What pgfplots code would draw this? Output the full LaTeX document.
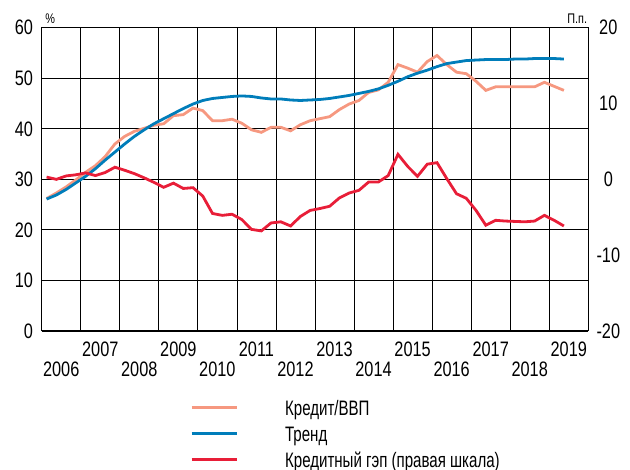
\documentclass[border=0pt]{standalone}
\usepackage{fontspec}
\setmainfont{Liberation Sans}[FakeStretch=0.78]
\newfontfamily\legfont{Liberation Sans}[FakeStretch=0.72]
\usepackage{pgfplots}
\pgfplotsset{compat=1.18}
\usepackage{pgfplotstable}

\definecolor{ccredit}{RGB}{246,152,128}
\definecolor{ctrend}{RGB}{0,125,186}
\definecolor{cgap}{RGB}{232,30,56}

\pgfplotstableread{
t credit trend gap
2006.125 26.2 26.1 0.3
2006.375 27.3 26.9 0.0
2006.625 28.5 28.0 0.45
2006.875 29.9 29.3 0.6
2007.125 31.4 30.6 0.85
2007.375 32.7 32.1 0.5
2007.625 34.5 33.8 0.9
2007.875 37.0 35.4 1.6
2008.125 38.5 37.0 1.2
2008.375 39.5 38.5 0.75
2008.625 40.1 39.8 0.2
2008.875 40.7 41.0 -0.4
2009.125 41.0 42.0 -1.05
2009.375 42.6 43.0 -0.5
2009.625 42.8 44.0 -1.2
2009.875 44.1 44.9 -1.1
2010.125 43.6 45.6 -2.2
2010.375 41.6 46.0 -4.5
2010.625 41.6 46.2 -4.75
2010.875 41.9 46.4 -4.6
2011.125 41.1 46.5 -5.3
2011.375 39.8 46.4 -6.6
2011.625 39.3 46.1 -6.8
2011.875 40.3 45.9 -5.75
2012.125 40.3 45.9 -5.6
2012.375 39.6 45.7 -6.15
2012.625 40.8 45.6 -4.9
2012.875 41.6 45.7 -4.1
2013.125 42.0 45.8 -3.85
2013.375 42.4 46.0 -3.55
2013.625 43.8 46.3 -2.45
2013.875 44.9 46.6 -1.8
2014.125 45.6 47.0 -1.45
2014.375 47.2 47.4 -0.35
2014.625 47.7 47.9 -0.35
2014.875 49.2 48.6 0.5
2015.125 52.7 49.4 3.3
2015.375 52.0 50.3 1.7
2015.625 51.2 51.0 0.4
2015.875 53.3 51.6 2.0
2016.125 54.5 52.3 2.2
2016.375 52.7 52.9 0.1
2016.625 51.2 53.2 -1.9
2016.875 50.9 53.5 -2.5
2017.125 49.4 53.6 -4.1
2017.375 47.6 53.7 -6.05
2017.625 48.3 53.7 -5.4
2017.875 48.3 53.7 -5.5
2018.125 48.3 53.8 -5.55
2018.375 48.3 53.8 -5.6
2018.625 48.3 53.9 -5.5
2018.875 49.2 53.9 -4.75
2019.125 48.4 53.9 -5.4
2019.375 47.6 53.8 -6.15
}\chartdata

\begin{document}
\begin{tikzpicture}
\begin{axis}[
  at={(41.7bp,139bp)}, anchor=south west,
  scale only axis, width=546.6bp, height=303.3bp,
  xmin=2006, xmax=2020, ymin=0, ymax=60,
  ytick={0,10,20,30,40,50,60},
  yticklabels={0,10,20,30,40,50,60},
  ymajorgrids,
  xtick={2006.5,2008.5,2010.5,2012.5,2014.5,2016.5,2018.5},
  xticklabels={2006,2008,2010,2012,2014,2016,2018},
  extra x ticks={2007.5,2009.5,2011.5,2013.5,2015.5,2017.5,2019.5},
  extra x tick labels={2007,2009,2011,2013,2015,2017,2019},
  extra x tick style={xticklabel style={yshift=20bp}, grid=none},
  minor xtick={2007,2008,2009,2010,2011,2012,2013,2014,2015,2016,2017,2018,2019},
  xminorgrids,
  major tick length=0pt, minor tick length=0pt,
  grid style={black, line width=0.8bp},
  minor grid style={black, line width=0.8bp},
  axis line style={black, line width=1bp},
  tick label style={font=\fontsize{21}{24}\selectfont},
  xticklabel style={anchor=center, yshift=-38bp},
  yticklabel style={inner sep=0pt, anchor=east, xshift=-8.5bp},
  clip=false,
]
\addplot[ccredit, line width=2.8bp] table[x=t, y=credit] {\chartdata};
\addplot[ctrend, line width=2.8bp] table[x=t, y=trend] {\chartdata};
\node[anchor=south west, inner sep=0pt, font=\fontsize{14}{16}\selectfont] at (rel axis cs:0,1) [xshift=3.5bp, yshift=4bp] {\%};
\node[anchor=south east, inner sep=0pt, font=\fontsize{14}{16}\selectfont] at (rel axis cs:1,1) [xshift=-1bp, yshift=4bp] {П.п.};
\end{axis}
\begin{axis}[
  at={(41.7bp,139bp)}, anchor=south west,
  scale only axis, width=546.6bp, height=303.3bp,
  xmin=2006, xmax=2020, ymin=-20, ymax=20,
  axis x line=none, axis y line*=right,
  ytick={-20,-10,0,10,20},
  yticklabels={-20,-10,0,10,20},
  major tick length=0pt,
  axis line style={black, line width=1bp},
  tick label style={font=\fontsize{21}{24}\selectfont},
  yticklabel style={anchor=center, inner sep=0pt, xshift=20bp},
  legend style={at={(0.2713,-0.2275)}, anchor=north west, draw=none, fill=none,
    inner sep=0pt, font=\legfont\fontsize{21}{24}\selectfont,
    nodes={inner sep=0pt, text height=15bp, text depth=0bp},
    row sep=11bp},
  legend cell align=left,
  legend image code/.code={\draw[#1, line width=3bp] (0bp,0bp) -- (45.3bp,0bp); \path (92bp,0bp);},
]
\addlegendimage{ccredit}
\addlegendentry{Кредит/ВВП}
\addlegendimage{ctrend}
\addlegendentry{Тренд}
\addplot[cgap, line width=2.8bp] table[x=t, y=gap] {\chartdata};
\addlegendentry{Кредитный гэп (правая шкала)}
\end{axis}
\pgfresetboundingbox
\useasboundingbox (0bp,0bp) rectangle (630bp,470bp);
\end{tikzpicture}
\end{document}
